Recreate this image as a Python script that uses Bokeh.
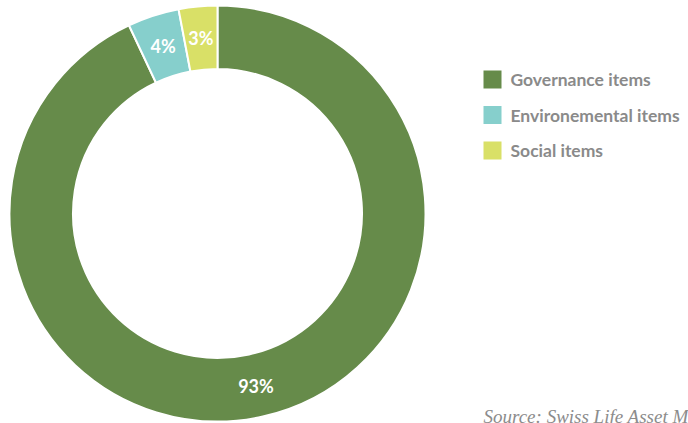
import numpy as np
from bokeh.plotting import figure
from bokeh.models import ColumnDataSource, Range1d
from bokeh.core.properties import value
from bokeh.embed import file_html
from bokeh.resources import INLINE

categories = ["Governance items", "Environemental items", "Social items"]
shares = [93, 4, 3]
colors = ["#668b4a", "#86cfcc", "#d9e067"]
source_note = "Source: Swiss Life Asset Management"

W, H = 688, 423
p = figure(width=W, height=H, output_backend="svg", toolbar_location=None,
           x_range=Range1d(0, W), y_range=Range1d(0, H), min_border=0)
p.axis.visible = False
p.grid.visible = False
p.outline_line_color = None
p.background_fill_color = "white"
p.border_fill_color = "white"

cx, cy = 217, H - 213
r_in, r_out = 144.5, 208

vals = np.array(shares, dtype=float)
frac = vals / vals.sum()
cum_end = np.cumsum(frac)
cum_start = cum_end - frac
start = np.pi / 2 - cum_start * 2 * np.pi
end = np.pi / 2 - cum_end * 2 * np.pi
mid = (start + end) / 2
r_lab = (r_in + r_out) / 2

src = ColumnDataSource(dict(start=start, end=end, color=colors,
                            lx=cx + r_lab * np.cos(mid), ly=cy + r_lab * np.sin(mid),
                            label=[f"{v:.0f}%" for v in vals]))
p.annular_wedge(x=cx, y=cy, inner_radius=r_in, outer_radius=r_out,
                start_angle="start", end_angle="end", direction="clock",
                fill_color="color", line_color="white", line_width=2, source=src)
p.text(x="lx", y="ly", text="label", source=src, text_color="white",
       text_font=value("Lato"), text_font_style="bold", text_font_size="18px",
       text_align="center", text_baseline="middle")

# legend
ly0, dy = 79, 35.5
leg = ColumnDataSource(dict(y=[H - (ly0 + i * dy) for i in range(len(categories))],
                            color=colors, label=categories))
p.rect(x=492, y="y", width=18, height=18, fill_color="color", line_color=None, source=leg)
p.text(x=510, y="y", text="label", source=leg, text_color="#8a8a8a",
       text_font=value("Lato"), text_font_style="bold", text_font_size="17.5px",
       text_align="left", text_baseline="middle")

p.text(x=[483], y=[H - 416], text=[source_note], text_color="#8c8c8c",
       text_font=value("Liberation Serif"), text_font_style="italic",
       text_font_size="19px", text_align="left", text_baseline="alphabetic")

open("out.html", "w").write(file_html(p, INLINE))
